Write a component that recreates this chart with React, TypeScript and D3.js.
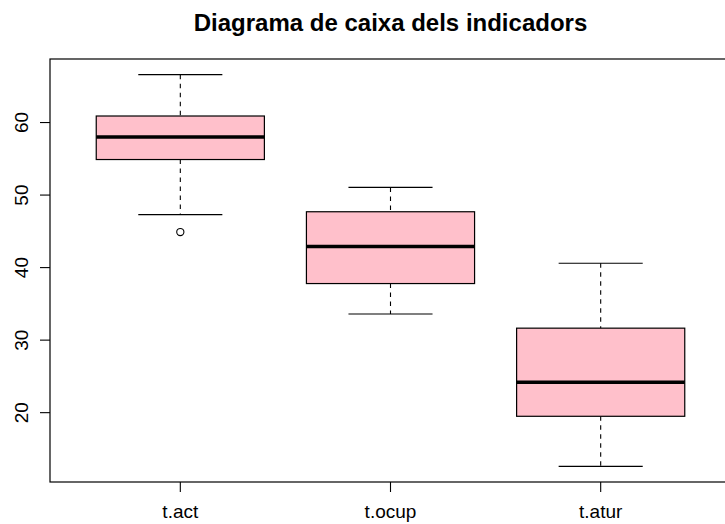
import React from 'react';
import * as d3 from 'd3';

// Estadístics del boxplot (llegits del gràfic)
const categories = ['t.act', 't.ocup', 't.atur'];
const lowerWhisker = [47.3, 33.6, 12.6];
const q1 = [54.9, 37.8, 19.5];
const median = [58.0, 42.9, 24.2];
const q3 = [60.9, 47.7, 31.65];
const upperWhisker = [66.6, 51.05, 40.6];
const outliers: number[][] = [[44.9], [], []];
const yTicks = [20, 30, 40, 50, 60];

const W = 725;
const H = 524;
const margin = { top: 59, right: -6, bottom: 42, left: 50 };
const FILL = '#FFC0CB';
const FONT = '"Liberation Sans", Arial, Helvetica, sans-serif';

const App: React.FC = () => {
    const left = margin.left;
    const right = W - margin.right;
    const top = margin.top;
    const bottom = H - margin.bottom;

    // limits like R: 4% extension on each side
    const n = categories.length;
    const xLo = 0.5, xHi = n + 0.5;
    const xPad = (xHi - xLo) * 0.04;
    const x = d3.scaleLinear().domain([xLo - xPad, xHi + xPad]).range([left, right]);

    const allVals = [...lowerWhisker, ...upperWhisker, ...outliers.flat()];
    const yMin = d3.min(allVals)!;
    const yMax = d3.max(allVals)!;
    const yPad = (yMax - yMin) * 0.04;
    const y = d3.scaleLinear().domain([yMin - yPad, yMax + yPad]).range([bottom, top]);

    const boxW = x(1.8) - x(1);
    const capW = boxW / 2;
    const dash = '4.5,4.5';

    return (
        <svg width={W} height={H} style={{ position: 'absolute', left: 0, top: 0, display: 'block', background: '#fff' }} fontFamily={FONT}>
            <text x={(left + right) / 2} y={31} textAnchor="middle" fontSize={24} fontWeight="bold" fill="#000">
                Diagrama de caixa dels indicadors
            </text>

            {categories.map((c, i) => {
                const cx = x(i + 1);
                return (
                    <g key={c}>
                        {/* whiskers */}
                        <line x1={cx} x2={cx} y1={y(upperWhisker[i])} y2={y(q3[i])} stroke="#000" strokeWidth={1.1} strokeDasharray={dash} />
                        <line x1={cx} x2={cx} y1={y(q1[i])} y2={y(lowerWhisker[i])} stroke="#000" strokeWidth={1.1} strokeDasharray={dash} />
                        <line x1={cx - capW / 2} x2={cx + capW / 2} y1={y(upperWhisker[i])} y2={y(upperWhisker[i])} stroke="#000" strokeWidth={1.2} />
                        <line x1={cx - capW / 2} x2={cx + capW / 2} y1={y(lowerWhisker[i])} y2={y(lowerWhisker[i])} stroke="#000" strokeWidth={1.2} />
                        {/* box */}
                        <rect x={cx - boxW / 2} y={y(q3[i])} width={boxW} height={y(q1[i]) - y(q3[i])} fill={FILL} stroke="#000" strokeWidth={1.2} />
                        <line x1={cx - boxW / 2} x2={cx + boxW / 2} y1={y(median[i])} y2={y(median[i])} stroke="#000" strokeWidth={3.5} />
                        {outliers[i].map((o, k) => (
                            <circle key={k} cx={cx} cy={y(o)} r={3.6} fill="none" stroke="#000" strokeWidth={1.1} />
                        ))}
                    </g>
                );
            })}

            {/* frame */}
            <rect x={left} y={top} width={right - left} height={bottom - top} fill="none" stroke="#000" strokeWidth={1.2} />

            {/* y axis */}
            {yTicks.map(t => (
                <g key={t}>
                    <line x1={left - 10} x2={left} y1={y(t)} y2={y(t)} stroke="#000" strokeWidth={1.1} />
                    <text transform={`translate(${28},${y(t)}) rotate(-90)`} textAnchor="middle" fontSize={19} fill="#000">{t}</text>
                </g>
            ))}

            {/* x axis */}
            {categories.map((c, i) => (
                <g key={c}>
                    <line x1={x(i + 1)} x2={x(i + 1)} y1={bottom} y2={bottom + 10} stroke="#000" strokeWidth={1.1} />
                    <text x={x(i + 1)} y={bottom + 36} textAnchor="middle" fontSize={19} fill="#000">{c}</text>
                </g>
            ))}
        </svg>
    );
};

export default App;
